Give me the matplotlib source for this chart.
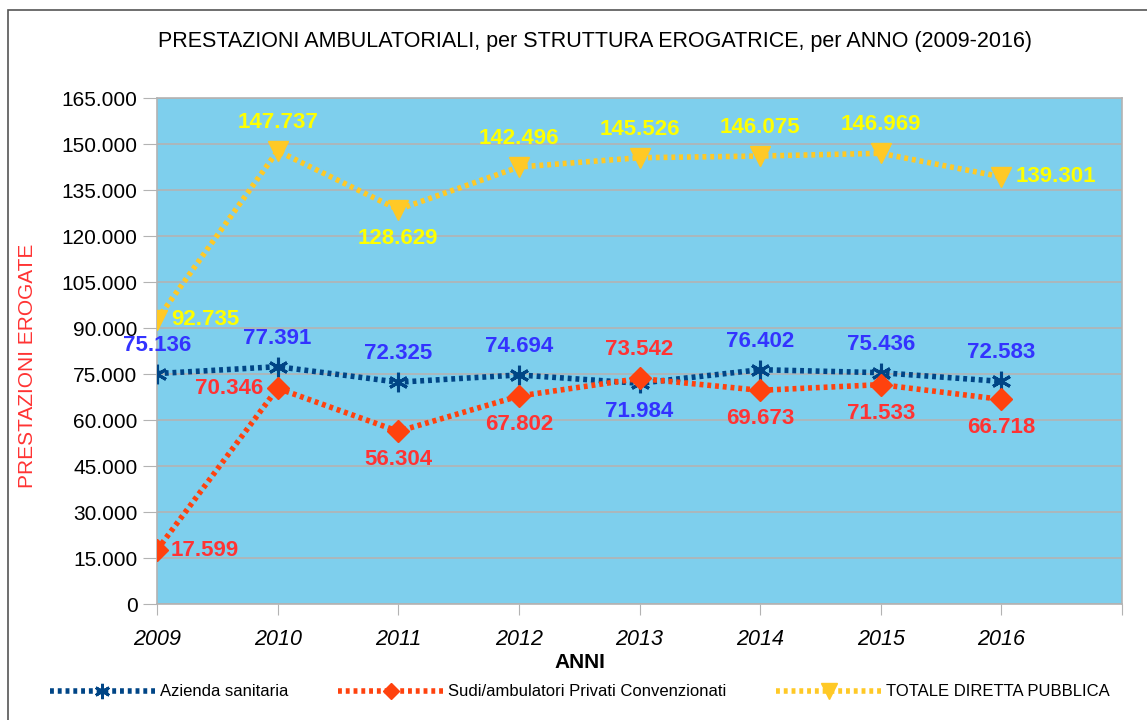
import matplotlib
matplotlib.use("Agg")
import matplotlib.pyplot as plt
from matplotlib.ticker import FuncFormatter
from matplotlib.patches import Rectangle
from matplotlib.lines import Line2D

years = [2009, 2010, 2011, 2012, 2013, 2014, 2015, 2016]
azienda = [75136, 77391, 72325, 74694, 71984, 76402, 75436, 72583]
privati = [17599, 70346, 56304, 67802, 73542, 69673, 71533, 66718]
totale = [92735, 147737, 128629, 142496, 145526, 146075, 146969, 139301]
series_names = ["Azienda sanitaria", "Sudi/ambulatori Privati Convenzionati", "TOTALE DIRETTA PUBBLICA"]
yticks = list(range(0, 165001, 15000))

FONT = ["Liberation Sans", "DejaVu Sans"]
plt.rcParams['font.family'] = FONT

fig = plt.figure(figsize=(11.47, 7.2), dpi=100)
ax = fig.add_axes([157/1147, 1-604/720, (1122-157)/1147, (604-98)/720])
ax.set_facecolor("#7ecfed")

# figure border (left and top visible)
fig.patches.append(Rectangle((8/1147, -0.05), 1.2, 1-10/720+0.05, transform=fig.transFigure,
                             fill=False, edgecolor="#555555", linewidth=1.2, zorder=0))

ax.set_xlim(2009, 2017)
ax.set_ylim(0, 165000)
ax.set_yticks(yticks)
ax.yaxis.set_major_formatter(FuncFormatter(lambda v, p: f"{int(v):,}".replace(",", ".")))
ax.set_xticks(years + [2017])
ax.set_xticklabels([str(y) for y in years] + [""], fontstyle="italic", fontsize=15.5)
ax.tick_params(axis="y", labelsize=15, length=10, color="#b3b3b3", pad=4)
ax.tick_params(axis="x", length=8, color="#b3b3b3", pad=10)
ax.grid(axis="y", color="#b3b3b3", linewidth=1.2)
ax.set_axisbelow(True)
for s in ax.spines.values():
    s.set_color("#b3b3b3")
    s.set_linewidth(1.2)

ls = (0, (0.7, 0.7))
c_blue, c_red, c_yel = "#004586", "#ff420e", "#ffc926"
ax.plot(years, azienda, color=c_blue, lw=4, ls=ls, marker=(6, 2, 0), ms=14, mew=2.2, mec=c_blue, zorder=3)
ax.plot(years, privati, color=c_red, lw=4, ls=ls, marker="D", ms=11, mec=c_red, zorder=3)
ax.plot(years, totale, color=c_yel, lw=4, ls=ls, marker="v", ms=14, mec=c_yel, zorder=3)

def fmt(v):
    return f"{v:,}".replace(",", ".")

lab_blue, lab_red, lab_yel = "#3333ff", "#ff3333", "#ffff00"
blue_pos = ["above"] * 8
blue_pos[4] = "below"
red_pos = ["right", "left", "below", "below", "above", "below", "below", "below"]
yel_pos = ["right", "above", "below", "above", "above", "above", "above", "right"]

def place(x, y, txt, pos, color):
    if pos == "above":
        off, ha, va = (0, 13), "center", "bottom"
    elif pos == "below":
        off, ha, va = (0, -13), "center", "top"
    elif pos == "right":
        off, ha, va = (10, 0), "left", "center"
    else:
        off, ha, va = (-10, 0), "right", "center"
    ax.annotate(txt, (x, y), xytext=off, textcoords="offset points", ha=ha, va=va,
                color=color, fontsize=16, fontweight="bold", zorder=5)

for x, v, p in zip(years, azienda, blue_pos):
    place(x, v, fmt(v), p, lab_blue)
for x, v, p in zip(years, privati, red_pos):
    place(x, v, fmt(v), p, lab_red)
for x, v, p in zip(years, totale, yel_pos):
    place(x, v, fmt(v), p, lab_yel)

fig.text(595/1147, 1-42/720, "PRESTAZIONI AMBULATORIALI, per STRUTTURA EROGATRICE, per ANNO (2009-2016)",
         ha="center", va="center", fontsize=15.5)
fig.text(28/1147, 1-366/720, "PRESTAZIONI EROGATE", rotation=90, ha="center", va="center",
         fontsize=15, color="#ff3333")
fig.text(580/1147, 1-662/720, "ANNI", ha="center", va="center", fontsize=15, fontweight="bold")

handles = [
    Line2D([], [], color=c_blue, lw=4, ls=ls, marker=(6, 2, 0), ms=11, mew=2, mec=c_blue),
    Line2D([], [], color=c_red, lw=4, ls=ls, marker="D", ms=8, mec=c_red),
    Line2D([], [], color=c_yel, lw=4, ls=ls, marker="v", ms=11, mec=c_yel),
]
fig.legend(handles, series_names, loc="center", bbox_to_anchor=(580/1147, 1-692/720), ncol=3,
           frameon=False, handlelength=6.3, columnspacing=3.0, handletextpad=0.3,
           prop={"size": 12})

fig.savefig("out.png", dpi=100)
